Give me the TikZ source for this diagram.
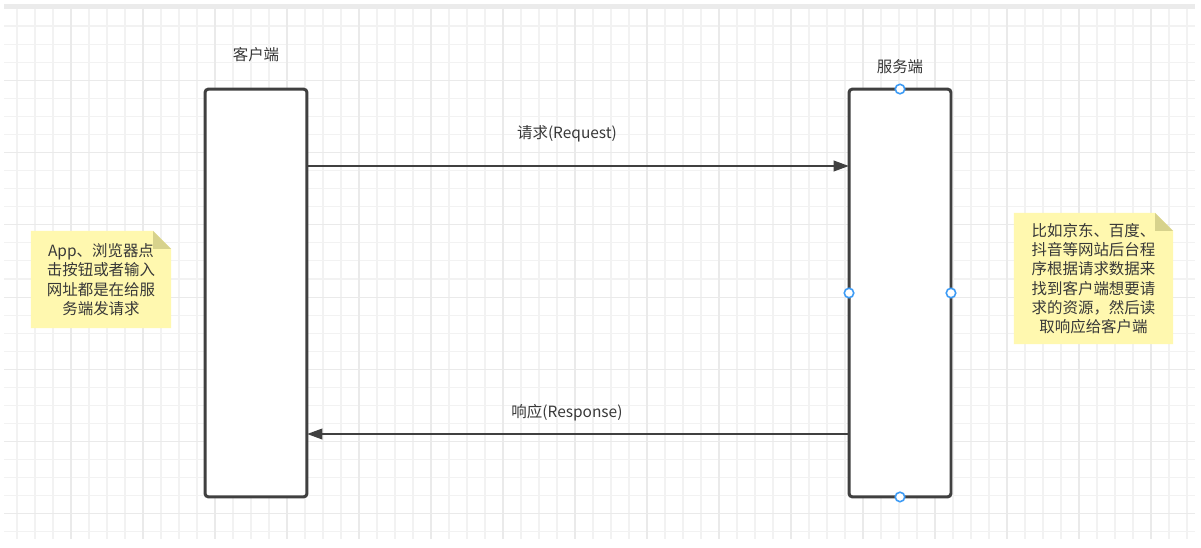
\documentclass[tikz,border=0pt]{standalone}
\usepackage{fontspec}
\setmainfont{Noto Sans CJK SC}
\usetikzlibrary{arrows.meta,backgrounds}
\definecolor{ink}{HTML}{404040}
\definecolor{txt}{HTML}{383838}
\definecolor{gridminor}{HTML}{F2F2F2}
\definecolor{gridmajor}{HTML}{EAEAEA}
\definecolor{topbar}{HTML}{EBEBEB}
\definecolor{notefill}{HTML}{FFF8AF}
\definecolor{foldfill}{HTML}{D7D28C}
\definecolor{handleblue}{HTML}{3D9BF5}

\begin{document}
\begin{tikzpicture}[x=0.02cm,y=-0.02cm,line width=1.2pt,
  >={Triangle[length=3.1mm,width=2.1mm]}]
\tikzset{lifebox/.style={draw=ink,line width=1.7pt,rounded corners=0.07cm,fill=white,
    minimum width=2.04cm,minimum height=8.16cm,outer sep=0pt,inner sep=0pt},
  handle/.style={circle,draw=handleblue,fill=white,line width=0.9pt,
    minimum size=0.19cm,inner sep=0pt},
  msg/.style={draw=ink,line width=1.4pt},
  lbl/.style={text=txt,font=\fontsize{8.8pt}{11pt}\selectfont,inner sep=0pt},
  notetext/.style={lbl,align=center}}
\def\F{0.36cm}
\useasboundingbox (0,0) rectangle (1201,548);
% ---- canvas with grid ----
\begin{scope}[on background layer]
  \fill[white] (0,0) rectangle (1201,548);
  \fill[topbar] (4,4) rectangle (1195,8.5);
  \foreach \k in {0,...,65}{
    \draw[gridminor,line width=0.6pt] ({17+18*\k},8.5) -- ({17+18*\k},539);
  }
  \foreach \j in {0,...,28}{
    \draw[gridminor,line width=0.6pt] (4,{26+18.07*\j}) -- (1195,{26+18.07*\j});
  }
  \foreach \k in {3,7,...,63}{
    \draw[gridmajor,line width=0.6pt] ({17+18*\k},8.5) -- ({17+18*\k},539);
  }
  \foreach \j in {3,7,...,27}{
    \draw[gridmajor,line width=0.6pt] (4,{26+18.07*\j}) -- (1195,{26+18.07*\j});
  }
\end{scope}
% ---- client and server ----
\node[lifebox] (client) at (256,293) {};
\node[lifebox] (server) at (900,293) {};
\node[lbl] (clientlbl) at (256,55) {客户端};
\node[lbl] (serverlbl) at (900,67) {服务端};
\foreach \a in {north,south,east,west}
  \node[handle] (h-\a) at (server.\a) {};
% ---- messages ----
\coordinate (reqy) at (0,166);
\coordinate (resy) at (0,434);
\draw[msg,->] (client.east |- reqy) -- (server.west |- reqy);
\draw[msg,->] (server.west |- resy) -- (client.east |- resy);
\node[lbl] (reqlbl) at (567,134) {请求(Request)};
\node[lbl] (reslbl) at (567,413) {响应(Response)};
% ---- notes ----
\node[notetext,minimum width=2.76cm,minimum height=1.9cm] (noteL) at (101,279.5)
  {App、浏览器点\\击按钮或者输入\\网址都是在给服\\务端发请求};
\node[notetext,minimum width=3.14cm,minimum height=2.58cm] (noteR) at (1093.5,278.5)
  {比如京东、百度、\\抖音等网站后台程\\序根据请求数据来\\找到客户端想要请\\求的资源，然后读\\取响应给客户端};
\foreach \n in {noteL,noteR}{
  \begin{scope}[on background layer]
    \fill[notefill] (\n.south west) -- (\n.north west) -- ([xshift=-\F]\n.north east)
      -- ([yshift=-\F]\n.north east) -- (\n.south east) -- cycle;
  \end{scope}
  \fill[foldfill] ([xshift=-\F]\n.north east) -- ([xshift=-\F,yshift=-\F]\n.north east)
    -- ([yshift=-\F]\n.north east) -- cycle;
}
\end{tikzpicture}
\end{document}
